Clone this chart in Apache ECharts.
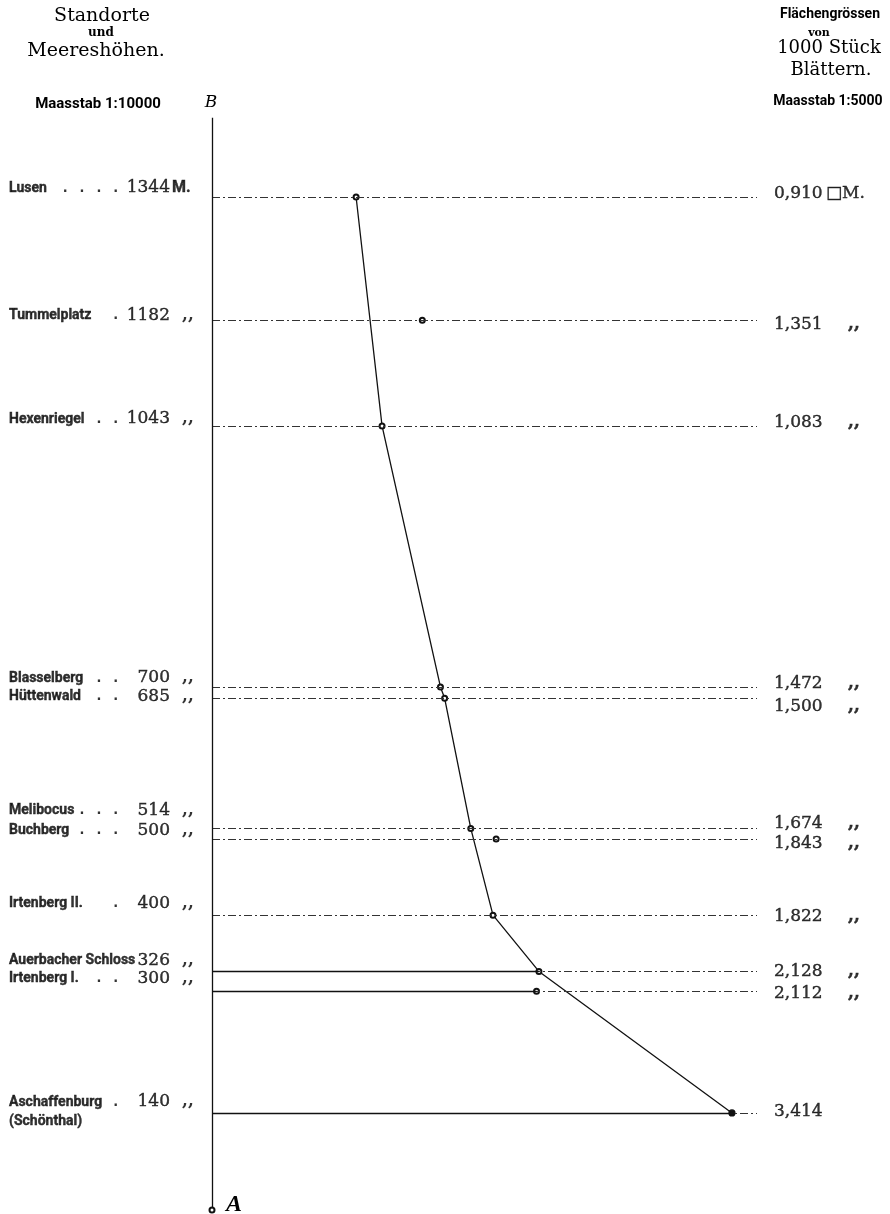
<!DOCTYPE html>
<html><head><meta charset="utf-8">
<script src="https://cdn.jsdelivr.net/npm/echarts@6/dist/echarts.min.js"></script>
<style>html,body{margin:0;padding:0;background:#fff}#c{width:890px;height:1214px}</style>
</head><body><div id="c"></div>
<script>
// ---- data ----
const sites = ['Lusen', 'Tummelplatz', 'Hexenriegel', 'Blasselberg', 'Hüttenwald', 'Melibocus', 'Buchberg', 'Irtenberg II.', 'Auerbacher Schloss', 'Irtenberg I.', 'Aschaffenburg'];
const subNames = ['', '', '', '', '', '', '', '', '', '', '(Schönthal)'];
const leaderDots = [4, 1, 2, 2, 2, 3, 3, 1, 0, 2, 1];
const elevations = [1344, 1182, 1043, 700, 685, 514, 500, 400, 326, 300, 140];
const elevUnits = ['M.', ',,', ',,', ',,', ',,', ',,', ',,', ',,', ',,', ',,', ',,'];
const areaValues = [0.910, 1.351, 1.083, 1.472, 1.500, 1.674, 1.843, 1.822, 2.128, 2.112, 3.414];
const areaLabels = ['0,910', '1,351', '1,083', '1,472', '1,500', '1,674', '1,843', '1,822', '2,128', '2,112', '3,414'];
const areaUnits = ['□M.', ',,', ',,', ',,', ',,', ',,', ',,', ',,', ',,', ',,', ''];
const onCurve = [true, false, true, true, true, true, false, true, true, false, true];

// ---- layout / style ----
const PX = 150.1;
const xAt = px => -0.05 + (px - 212) / PX;
const XMIN = xAt(0), XMAX = xAt(890);
const AXIS_X = xAt(212), LINE_END = xAt(757);
const SOLID_ROWS = ['Auerbacher Schloss', 'Irtenberg I.', 'Aschaffenburg'];
// small vertical nudges (px) of the printed labels, as typeset in the original plate
const LEFT_NUDGE = [0, 4, 2, 0, 7, -9, 0, -3, -2, -4, -2];
const RIGHT_NUDGE = [-3, 4, -3, -3, 8, -5, 4, 1, 0, 2, -1];
const SERIF = "'DejaVu Serif', 'Liberation Serif', serif";
const NAMES = "Roboto, 'Liberation Sans', Arial, sans-serif";
const MONO = "'DejaVu Sans Mono', 'Liberation Mono', monospace";
const INK = '#000000';

function labelSeries(items, position, style) {
  return {
    type: 'scatter', symbolSize: 0, silent: true, z: 5,
    data: items.map(it => ({ value: [it[0], it[1]], name: it[2], label: { offset: [0, it[3]] } })),
    label: Object.assign({ show: true, position: position, distance: 0, color: INK, formatter: p => p.name }, style)
  };
}

const idx = sites.map((_, i) => i);
const series = [];

// horizontal reference lines
series.push({
  type: 'line', data: [], silent: true,
  markLine: {
    silent: true, symbol: 'none', animation: false, label: { show: false },
    lineStyle: { color: '#333333', width: 1, type: [8, 3, 2, 3] },
    data: elevations.map(e => [{ coord: [AXIS_X, e] }, { coord: [LINE_END, e] }])
  }
});
// solid leads from the axis to the point
series.push({
  type: 'line', data: [], silent: true,
  markLine: {
    silent: true, symbol: 'none', animation: false, label: { show: false },
    lineStyle: { color: '#111111', width: 1.4, type: 'solid' },
    data: idx.filter(i => SOLID_ROWS.includes(sites[i])).map(i => [{ coord: [AXIS_X, elevations[i]] }, { coord: [areaValues[i], elevations[i]] }])
  }
});
// vertical axis B–A
series.push({
  type: 'line', data: [], silent: true,
  markLine: {
    silent: true, animation: false, label: { show: false },
    symbol: ['emptyCircle', 'none'], symbolSize: 5,
    lineStyle: { color: '#111111', width: 1.3, type: 'solid' },
    data: [[{ coord: [AXIS_X, 12.5] }, { coord: [AXIS_X, 1448] }]]
  }
});
// curve
series.push({
  type: 'line', silent: true, z: 4,
  data: idx.filter(i => onCurve[i]).map(i => ({
    value: [areaValues[i], elevations[i]],
    symbol: i === sites.length - 1 ? 'circle' : 'emptyCircle',
    symbolSize: i === sites.length - 1 ? 6 : 5
  })),
  lineStyle: { color: '#111111', width: 1.3 },
  itemStyle: { color: '#111111', borderColor: '#111111', borderWidth: 1.2, opacity: 1 }
});
// isolated points
series.push({
  type: 'scatter', silent: true, z: 4, symbol: 'emptyCircle', symbolSize: 5,
  data: idx.filter(i => !onCurve[i]).map(i => [areaValues[i], elevations[i]]),
  itemStyle: { color: '#111111', borderColor: '#111111', borderWidth: 1.2, opacity: 1 }
});

const thick = { textBorderColor: INK, textBorderWidth: 0.4 };
// left text
series.push(labelSeries(idx.map(i => [xAt(9), elevations[i], sites[i], -8.5 + LEFT_NUDGE[i]]), 'right',
  Object.assign({ fontFamily: NAMES, fontWeight: 'bold', fontSize: 14 }, thick)));
series.push(labelSeries(idx.filter(i => subNames[i]).map(i => [xAt(9), elevations[i], subNames[i], 9]), 'right',
  Object.assign({ fontFamily: NAMES, fontWeight: 'bold', fontSize: 14 }, thick)));
series.push(labelSeries(idx.filter(i => leaderDots[i] > 0).map(i => [xAt(120), elevations[i], Array(leaderDots[i]).fill('.').join(' '), -9 + LEFT_NUDGE[i]]), 'left',
  { fontFamily: MONO, fontWeight: 'bold', fontSize: 14 }));
series.push(labelSeries(idx.map(i => [xAt(170), elevations[i], String(elevations[i]), -9 + LEFT_NUDGE[i]]), 'left',
  Object.assign({ fontFamily: SERIF, fontSize: 17 }, thick)));
series.push(labelSeries(idx.filter(i => elevUnits[i] === ',,').map(i => [xAt(182), elevations[i], elevUnits[i], -9 + LEFT_NUDGE[i]]), 'right',
  { fontFamily: SERIF, fontSize: 17, fontWeight: 'bold' }));
series.push(labelSeries(idx.filter(i => elevUnits[i] !== ',,').map(i => [xAt(172), elevations[i], elevUnits[i], -8.5 + LEFT_NUDGE[i]]), 'right',
  Object.assign({ fontFamily: NAMES, fontSize: 16, fontWeight: 'bold' }, thick)));
// right text
series.push(labelSeries(idx.map(i => [xAt(774), elevations[i], areaLabels[i], RIGHT_NUDGE[i]]), 'right',
  Object.assign({ fontFamily: SERIF, fontSize: 17 }, thick)));
series.push(labelSeries(idx.filter(i => areaUnits[i] === ',,').map(i => [xAt(848), elevations[i], areaUnits[i], RIGHT_NUDGE[i]]), 'right',
  Object.assign({ fontFamily: SERIF, fontSize: 17, fontWeight: 'bold' }, thick)));
series.push(labelSeries(idx.filter(i => areaUnits[i] && areaUnits[i] !== ',,').map(i => [xAt(826), elevations[i], areaUnits[i], RIGHT_NUDGE[i]]), 'right',
  Object.assign({ fontFamily: SERIF, fontSize: 17, fontWeight: 'normal' }, thick)));

const heading = (x, y, text, font, size, weight, style) => ({
  type: 'text', x: x, y: y, silent: true,
  style: { text: text, fill: INK, font: (style || 'normal') + ' ' + (weight || 'normal') + ' ' + size + 'px ' + font, textAlign: 'center', textVerticalAlign: 'middle' }
});

const option = {
  backgroundColor: '#ffffff',
  animation: false,
  grid: { left: 0, right: 0, top: 0, bottom: 0 },
  xAxis: { type: 'value', min: XMIN, max: XMAX, show: false },
  yAxis: { type: 'value', min: 7.2, max: 1602.9, show: false },
  series: series,
  graphic: [
    heading(102, 16, 'Standorte', SERIF, 19),
    heading(101, 33, 'und', SERIF, 12, 'bold'),
    heading(96, 51, 'Meereshöhen.', SERIF, 19),
    heading(98, 104, 'Maasstab 1:10000', NAMES, 15, 'bold'),
    heading(211, 103, 'B', SERIF, 17, 'normal', 'italic'),
    heading(234, 1205, 'A', "'Liberation Serif', serif", 24, 'bold', 'italic'),
    heading(830, 14, 'Flächengrössen', NAMES, 14, 'bold'),
    heading(819, 33, 'von', SERIF, 11, 'bold'),
    heading(829, 48, '1000 Stück', SERIF, 18),
    heading(831, 70, 'Blättern.', SERIF, 18),
    heading(828, 101, 'Maasstab 1:5000', NAMES, 14, 'bold')
  ]
};

const chart = echarts.init(document.getElementById('c'), null, { renderer: 'canvas' });
chart.setOption(option);
</script>
</body></html>
